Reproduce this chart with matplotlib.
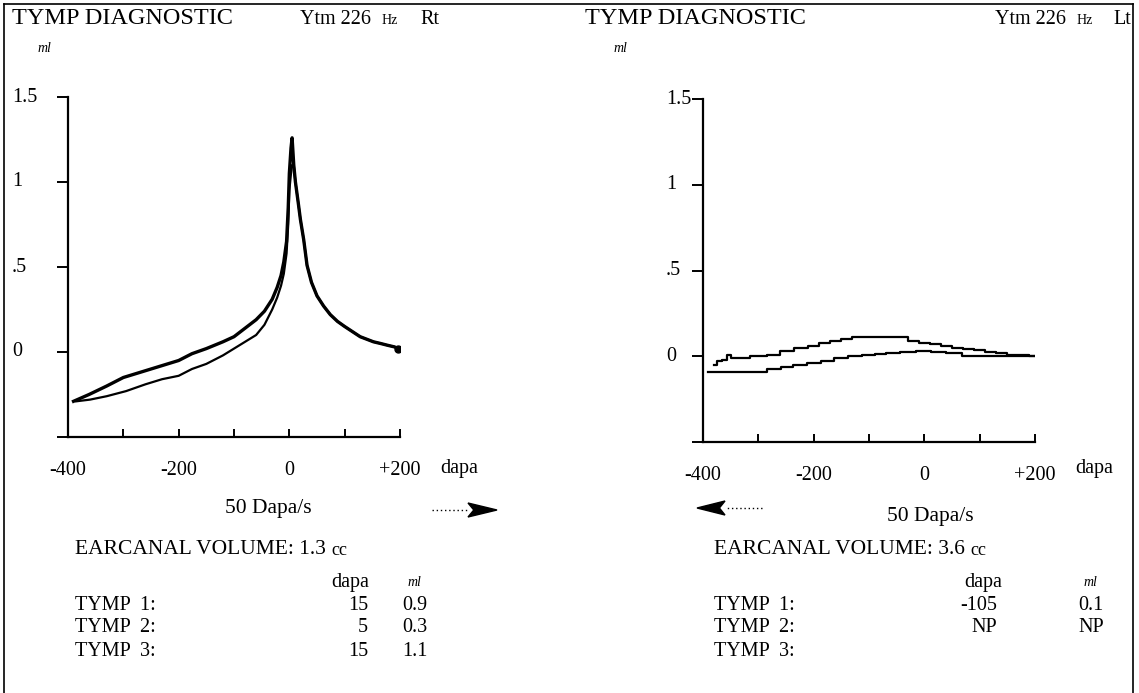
import numpy as np
import matplotlib.pyplot as plt
from matplotlib.lines import Line2D
from matplotlib.patches import Polygon
import matplotlib.transforms as mtransforms

plt.rcParams['font.family'] = ['Liberation Serif', 'DejaVu Serif']

W, H = 1139, 693

# --- data ---
y_ticks = [1.5, 1.0, 0.5, 0.0, -0.5]
y_labels = ['1.5', '1', '.5', '0', '']
x_ticks = [-400, -300, -200, -100, 0, 100, 200]
x_labels = ['-400', '', '-200', '', '0', '', '+200']

# right ear (Rt): rising sweep, upper and lower branch, then common falling side
rt_up_dapa = [-390, -362, -330, -300, -270, -240, -200, -176, -150, -120, -100, -80,
              -60, -45, -31, -22, -15, -10, -5, -2, 0, 3, 5]
rt_up_ml = [-0.29, -0.25, -0.20, -0.15, -0.12, -0.09, -0.05, -0.01, 0.02, 0.06, 0.09, 0.14,
            0.19, 0.24, 0.31, 0.38, 0.45, 0.53, 0.65, 0.85, 1.05, 1.20, 1.26]
rt_lo_dapa = [-385, -360, -330, -295, -260, -230, -200, -176, -150, -120, -100, -80,
              -60, -45, -31, -22, -15, -10, -5, -2, 0, 3, 5]
rt_lo_ml = [-0.29, -0.28, -0.26, -0.23, -0.19, -0.16, -0.14, -0.10, -0.07, -0.02, 0.02, 0.06,
            0.10, 0.16, 0.25, 0.32, 0.39, 0.46, 0.58, 0.75, 0.95, 1.05, 1.10]
rt_down_dapa = [8, 11, 16, 20, 26, 32, 40, 50, 62, 74, 87, 100, 114, 128, 140, 152,
                165, 177, 190, 197]
rt_down_ml = [1.10, 1.00, 0.88, 0.78, 0.66, 0.51, 0.41, 0.33, 0.27, 0.22, 0.18, 0.15,
              0.12, 0.09, 0.075, 0.06, 0.05, 0.04, 0.03, 0.02]

# left ear (Lt): two flat sweeps
lt_dapa = [-380, -370, -362, -352, -345, -330, -300, -270, -250, -220, -200, -180, -160,
           -140, -120, -100, -80, -60, -40, -20, 0, 20, 40, 60, 80, 100, 120, 140, 160,
           180, 200]
lt_up_ml = [-0.05, -0.03, -0.02, 0.01, -0.01, -0.01, 0.0, 0.01, 0.03, 0.05, 0.06, 0.08,
            0.09, 0.10, 0.11, 0.115, 0.115, 0.115, 0.11, 0.09, 0.08, 0.07, 0.06, 0.05,
            0.04, 0.035, 0.025, 0.02, 0.01, 0.005, 0.0]
lt_lo_dapa = [-391, -350, -300, -270, -248, -225, -200, -175, -152, -125, -100, -80,
              -57, -30, 0, 25, 52, 83, 120, 160, 200]
lt_lo_ml = [-0.09, -0.09, -0.09, -0.075, -0.06, -0.05, -0.04, -0.025, -0.01, 0.0, 0.01,
            0.015, 0.02, 0.025, 0.03, 0.025, 0.02, 0.0, 0.0, 0.0, 0.0]

# volumes and peak table
volumes = ['1.3', '3.6']
sides = ['Rt', 'Lt']
tymp_names = ['TYMP  1:', 'TYMP  2:', 'TYMP  3:']
rt_peak_dapa = ['15', '5', '15']
rt_peak_ml = ['0.9', '0.3', '1.1']
lt_peak_dapa = ['-105', 'NP', '']
lt_peak_ml = ['0.1', 'NP', '']

# --- figure ---
fig = plt.figure(figsize=(W / 100, H / 100), dpi=100)


def fx(x):
    return x / W


def fy(y):
    return 1 - y / H


def setup_axes(left_px, top_px, right_px, bottom_px, label_px):
    ax = fig.add_axes([fx(left_px), fy(bottom_px), fx(right_px - left_px),
                       (bottom_px - top_px) / H])
    ax.set_xlim(-400, 200)
    ax.set_ylim(-0.5, 1.5)
    for s in ['top', 'right']:
        ax.spines[s].set_visible(False)
    for s in ['left', 'bottom']:
        ax.spines[s].set_linewidth(1.6)
    ax.set_yticks(y_ticks, [''] * len(y_ticks))
    ax.tick_params(axis='y', direction='out', length=8, width=1.4)
    ax.set_xticks(x_ticks, x_labels)
    ax.tick_params(axis='x', direction='in', length=6, width=1.4, pad=17, labelsize=14.5)
    # y labels are left-aligned far from the axis, as on the printout
    trans = mtransforms.blended_transform_factory(fig.transFigure, ax.transData)
    for v, lab in zip(y_ticks, y_labels):
        ax.text(fx(label_px), v, lab, transform=trans, ha='left', va='center', fontsize=14.5)
    return ax


axL = setup_axes(68, 97, 400, 437, 12)
axR = setup_axes(703, 99, 1035, 442, 666)

# right ear curves
axL.plot(rt_up_dapa + rt_down_dapa, rt_up_ml + rt_down_ml, color='black', lw=2.4,
         clip_on=False)
axL.plot(rt_lo_dapa + rt_down_dapa, rt_lo_ml + rt_down_ml, color='black', lw=1.6,
         clip_on=False)
axL.plot(rt_down_dapa[-1], rt_down_ml[-1], 'o', color='black', ms=5)

# left ear curves
axR.plot(lt_dapa, lt_up_ml, color='black', lw=1.6, drawstyle='steps-mid')
axR.plot(lt_lo_dapa, lt_lo_ml, color='black', lw=1.6, drawstyle='steps-mid')


# --- texts ---
def t(x, y, s, size=15, **kw):
    return fig.text(fx(x), fy(y), s, fontsize=size, va='center', **kw)


for x0, side in zip([0, 573], sides):
    t(12 + x0, 18, 'TYMP DIAGNOSTIC', 17.5)
ytm_x = [300, 995]
for x0, side in zip(ytm_x, sides):
    t(x0, 20, 'Ytm 226', 14.5)
    t(x0 + 82, 21, 'Hz', 10)
    t(x0 + 120 - (2 if side == 'Lt' else 0), 20, side, 14.5)
t(37, 48, 'ml', 10, style='italic')
t(613, 48, 'ml', 10, style='italic')

t(440, 469, 'dapa', 14.5)
t(1075, 469, 'dapa', 14.5)

t(268, 509, '50 Dapa/s', 15.5, ha='center')
t(930, 517, '50 Dapa/s', 15.5, ha='center')

for x0, vol in zip([75, 714], volumes):
    vt = fig.text(fx(x0), fy(554), 'EARCANAL VOLUME: ' + vol, fontsize=15.5,
                  va='baseline')
    fig.add_artist(plt.Annotation('cc', xy=(1, 0), xycoords=vt, xytext=(4, 0),
                                  textcoords='offset points', fontsize=13,
                                  va='bottom', annotation_clip=False))

# tables
t(350, 582, 'dapa', 14.5, ha='center')
t(414, 582, 'ml', 10, ha='center', style='italic')
t(983, 582, 'dapa', 14.5, ha='center')
t(1090, 582, 'ml', 10, ha='center', style='italic')

rows_y = [605, 628, 651]
for y, name, d, m in zip(rows_y, tymp_names, rt_peak_dapa, rt_peak_ml):
    t(75, y, name, 14.5)
    t(368, y, d, 14.5, ha='right')
    t(415, y, m, 14.5, ha='center')
for y, name, d, m in zip(rows_y, tymp_names, lt_peak_dapa, lt_peak_ml):
    t(714, y, name, 14.5)
    t(997, y, d, 14.5, ha='right')
    t(1091, y, m, 14.5, ha='center')


# sweep direction arrows (dotted tail + solid head)
def arrow(x_dot0, x_dot1, x_base, x_tip, y):
    fig.add_artist(Line2D([fx(x_dot0), fx(x_dot1)], [fy(y), fy(y)], color='black',
                          lw=1.0, linestyle=(0, (1, 2))))
    fig.add_artist(Polygon([(fx(x_base), fy(y - 7)), (fx(x_tip), fy(y)),
                            (fx(x_base), fy(y + 7)), (fx(x_base + (x_tip - x_base) * 0.2), fy(y))],
                           closed=True, facecolor='black', edgecolor='black',
                           transform=fig.transFigure))


arrow(432, 468, 468, 497, 510)
arrow(762, 725, 725, 697, 508)

# frame
for xs, ys in [([4, 4], [4, 700]), ([4, 1133], [4, 4]), ([1133, 1133], [4, 700])]:
    fig.add_artist(Line2D([fx(v) for v in xs], [fy(v) for v in ys], color='black', lw=1.2))

fig.savefig('out.png', dpi=100)
